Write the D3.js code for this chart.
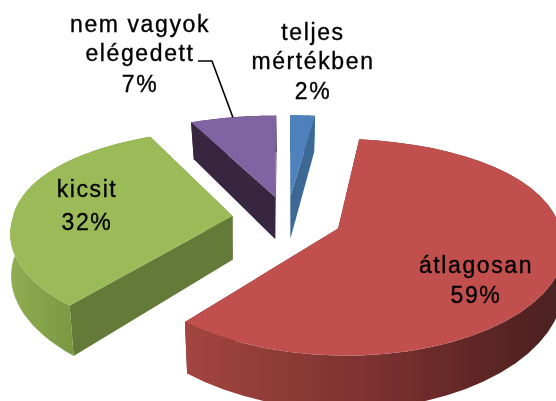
<!DOCTYPE html>
<html><head><meta charset="utf-8">
<style>html,body{margin:0;padding:0;background:#fff;overflow:hidden}svg{display:block}
text{font-family:"Liberation Sans",sans-serif;font-size:23px;fill:#000;stroke:#000;stroke-width:0.35px;text-anchor:middle;letter-spacing:1.6px}</style>
</head><body>
<script src="https://cdnjs.cloudflare.com/ajax/libs/d3/7.8.5/d3.min.js"></script>
<script>
const categories = ["teljes mértékben","átlagosan","kicsit","nem vagyok elégedett"];
const values = [2,59,32,7];
const topColors = ["#4f81bd","#c0504d","#9bbb59","#8064a2"];
const sideColors = ["#3b6795","#5a2a28","#647a38","#38283f"];
const rimStops = [["#3b6795","#3b6795"],["#a34541","#7c312f","#4c2020"],["#8fae52","#78963f","#647a38"],["#38283f","#38283f"]];
const labelLines = [["teljes","mértékben","2%"],["átlagosan","59%"],["kicsit","32%"],["nem vagyok","elégedett","7%"]];
const labelX = [313,476,87,140];
const labelY = [[40,69,99],[273,303],[197,230],[32,61,92]];

const W=556,H=401, cx=287, cy=219, Rx=220, Ry=102, p=0.17, pxFront=0.14, pxBack=0.09, explodeX=0.25, explodeY=0.23, depth=44, shrink=0.025;
const svg=d3.select("body").append("svg").attr("width",W).attr("height",H);
const defs=svg.append("defs");
defs.append("filter").attr("id","soft").append("feGaussianBlur").attr("stdDeviation",0.45);
const root=svg.append("g").attr("filter","url(#soft)");

function project(U,V,z){const w=1-p*V,wx=1-(V>0?pxFront:pxBack)*V,k=z?1-shrink*Math.abs(V):1;
  return [cx+Rx*U/wx*k, cy+Ry*V/w+(z?depth/w:0)];}
const line=d3.line();
const arcs=d3.pie().sort(null).startAngle(0).endAngle(2*Math.PI)(values);
const drawOrder=[0,3,2,1];
const leaderEnd={};

drawOrder.forEach(i=>{
  const a=arcs[i], mid=(a.startAngle+a.endAngle)/2;
  const ox=explodeX*Math.sin(mid), oy=-explodeY*Math.cos(mid);
  const steps=d3.range(0,41).map(t=>a.startAngle+(a.endAngle-a.startAngle)*t/40);
  const rim=z=>steps.map(t=>project(ox+Math.sin(t),oy-Math.cos(t),z));
  const apex=z=>project(ox,oy,z);
  const r0=rim(0), r1=rim(1);
  const g=root.append("g");
  // radial walls
  g.append("path").attr("d",line([apex(0),r0[0],r1[0],apex(1)])+"Z").attr("fill",sideColors[i]);
  g.append("path").attr("d",line([apex(0),r0[40],r1[40],apex(1)])+"Z").attr("fill",sideColors[i]);
  // rim wall
  const id="rim"+i, xs=r0.map(d=>d[0]);
  const grad=defs.append("linearGradient").attr("id",id).attr("gradientUnits","userSpaceOnUse")
    .attr("x1",d3.min(xs)).attr("x2",Math.min(W,d3.max(xs))).attr("y1",0).attr("y2",0);
  rimStops[i].forEach((c,j,arr)=>grad.append("stop").attr("offset",j/(arr.length-1)).attr("stop-color",c));
  g.append("path").attr("d",line(r0.concat(r1.slice().reverse()))+"Z").attr("fill",`url(#${id})`);
  // top face
  g.append("path").attr("d",line([apex(0)].concat(r0))+"Z").attr("fill",topColors[i]);
  leaderEnd[i]=project(ox+Math.sin(mid),oy-Math.cos(mid),0);
});

// leader for the "nem vagyok elégedett" label
svg.append("path").attr("d",line([[198,61],[212,61],leaderEnd[3]])).attr("fill","none").attr("stroke","#000").attr("stroke-width",1.6);

const tg=svg.append("g").attr("filter","url(#soft)");
labelLines.forEach((ls,i)=>ls.forEach((s,j)=>{
  tg.append("text").attr("x",labelX[i]).attr("y",labelY[i][j]).text(s);
}));
</script></body></html>
